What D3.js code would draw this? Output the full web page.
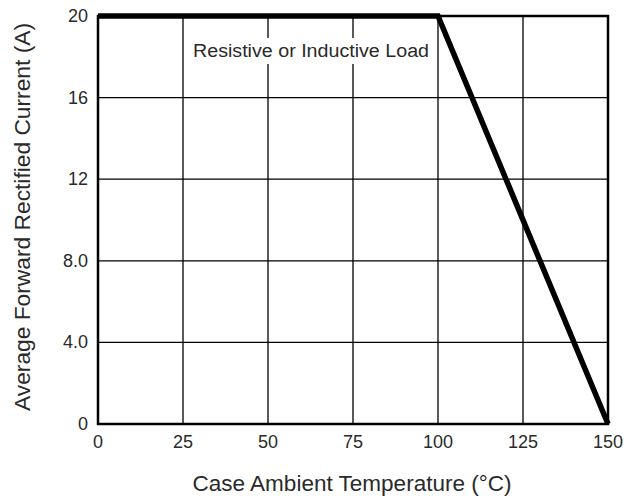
<!DOCTYPE html>
<html>
<head>
<meta charset="utf-8">
<script src="https://cdn.jsdelivr.net/npm/d3@7"></script>
<style>
  body { margin: 0; background: #fff; }
  text { font-family: "Liberation Sans", Arial, sans-serif; fill: #2a2a2a; }
</style>
</head>
<body>
<svg id="canvas" width="627" height="496"></svg>
<script>
// derating curve
let tempValues = [0, 100, 150];
let currentValues = [20, 20, 0];

let xTicks = [0, 25, 50, 75, 100, 125, 150];
let yTicks = [0, 4, 8, 12, 16, 20];
let yTickLabels = ["0", "4.0", "8.0", "12", "16", "20"];

let noteText = "Resistive or Inductive Load";

let canvas = d3.select("#canvas");

let xScale = d3.scaleLinear().domain([0, 150]).range([98, 608]);
let yScale = d3.scaleLinear().domain([0, 20]).range([424, 16]);

// grid
canvas.append('g')
    .selectAll('line')
    .data(xTicks)
    .enter()
    .append('line')
    .attr('x1', (d) => xScale(d))
    .attr('x2', (d) => xScale(d))
    .attr('y1', yScale(0))
    .attr('y2', yScale(20))
    .attr('stroke', '#000')
    .attr('stroke-width', 1.3);

canvas.append('g')
    .selectAll('line')
    .data(yTicks)
    .enter()
    .append('line')
    .attr('x1', xScale(0))
    .attr('x2', xScale(150))
    .attr('y1', (d) => yScale(d))
    .attr('y2', (d) => yScale(d))
    .attr('stroke', '#000')
    .attr('stroke-width', 1.3);

// frame
canvas.append('rect')
    .attr('x', xScale(0))
    .attr('y', yScale(20))
    .attr('width', xScale(150) - xScale(0))
    .attr('height', yScale(0) - yScale(20))
    .attr('fill', 'none')
    .attr('stroke', '#000')
    .attr('stroke-width', 2.5);

// note with white box behind it
let note = canvas.append('g');
let noteBox = note.append('rect').attr('fill', '#fff');
let noteLabel = note.append('text')
    .attr('x', 311)
    .attr('y', 57)
    .attr('text-anchor', 'middle')
    .attr('textLength', 236)
    .attr('lengthAdjust', 'spacingAndGlyphs')
    .style('font-size', '18px')
    .text(noteText);
noteBox.attr('x', 189).attr('y', 38)
    .attr('width', 245).attr('height', 26);

// curve
let line = d3.line()
    .x((d, i) => xScale(tempValues[i]))
    .y((d, i) => yScale(currentValues[i]));

canvas.append('path')
    .datum(tempValues)
    .attr('d', line)
    .attr('fill', 'none')
    .attr('stroke', '#000')
    .attr('stroke-width', 5.5)
    .attr('stroke-linejoin', 'miter');

// tick labels
canvas.append('g')
    .selectAll('text')
    .data(xTicks)
    .enter()
    .append('text')
    .attr('x', (d) => xScale(d))
    .attr('y', 448)
    .attr('text-anchor', 'middle')
    .style('font-size', '18px')
    .text((d) => d);

canvas.append('g')
    .selectAll('text')
    .data(yTicks)
    .enter()
    .append('text')
    .attr('x', 88)
    .attr('y', (d) => yScale(d) + 6)
    .attr('text-anchor', 'end')
    .style('font-size', '18px')
    .text((d, i) => yTickLabels[i]);

// axis titles
canvas.append('text')
    .attr('x', 352)
    .attr('y', 491)
    .attr('text-anchor', 'middle')
    .attr('textLength', 319)
    .attr('lengthAdjust', 'spacingAndGlyphs')
    .style('font-size', '22px')
    .text('Case Ambient Temperature (°C)');

canvas.append('text')
    .attr('transform', 'translate(30, 217) rotate(-90)')
    .attr('text-anchor', 'middle')
    .attr('textLength', 388)
    .attr('lengthAdjust', 'spacingAndGlyphs')
    .style('font-size', '22px')
    .text('Average Forward Rectified Current (A)');
</script>
</body>
</html>
